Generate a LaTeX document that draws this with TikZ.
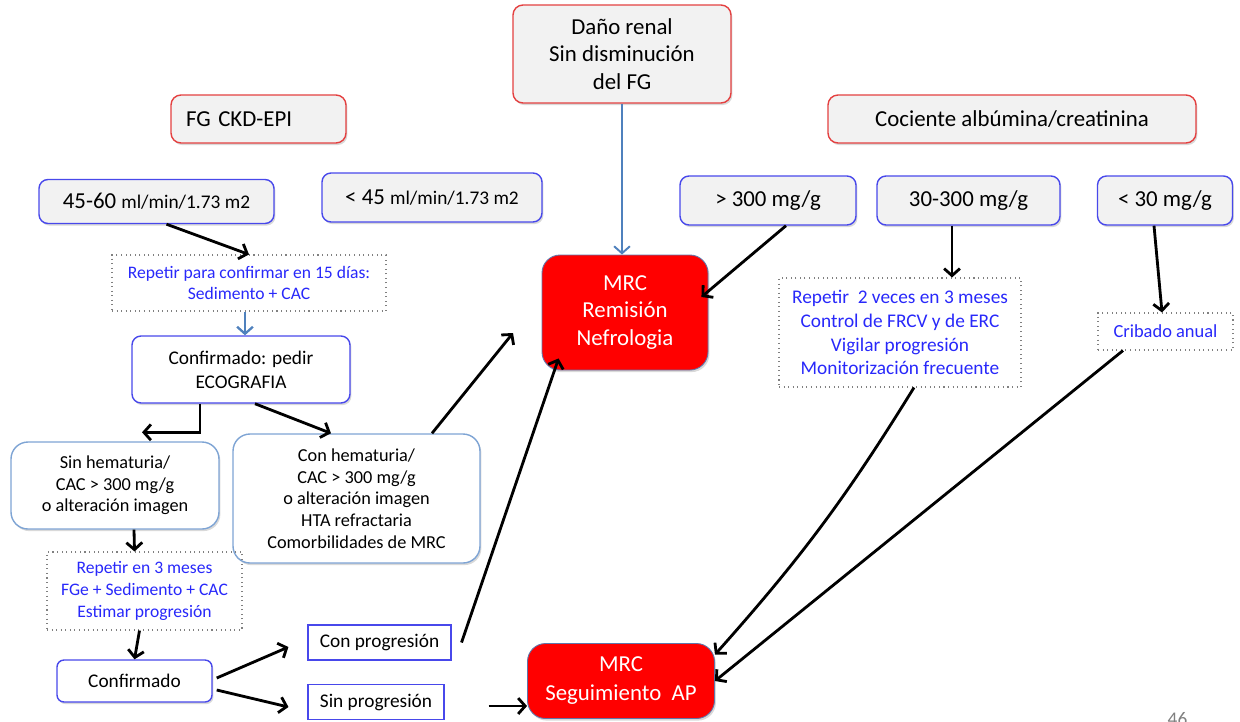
\documentclass[tikz,border=0pt]{standalone}
\usepackage{fontspec}
\setmainfont{Carlito}
\definecolor{headred}{RGB}{228, 64, 64}
\definecolor{boxgray}{RGB}{242, 242, 242}
\definecolor{valblue}{RGB}{72, 72, 235}
\definecolor{softblue}{RGB}{126, 164, 212}
\definecolor{noteblue}{RGB}{40, 40, 250}
\definecolor{steelblue}{RGB}{79, 129, 189}
\definecolor{mrcred}{RGB}{255, 0, 0}
\definecolor{mrcedge}{RGB}{96, 118, 170}
\usetikzlibrary{arrows.meta, shadows}
\newcommand{\hdfont}{\fontsize{13}{15.5}\selectfont}
\newcommand{\unitfont}{\fontsize{11}{13}\selectfont}
\newcommand{\boxfont}{\fontsize{11}{13.6}\selectfont}
\newcommand{\notefont}{\fontsize{10}{12.3}\selectfont}
\newcommand{\softfont}{\fontsize{10.4}{12.3}\selectfont}

\begin{document}
\begin{tikzpicture}[
    shade/.style={drop shadow={shadow xshift=0.8pt, shadow yshift=-1.2pt, opacity=0.3}},
    headbox/.style={draw=headred, fill=boxgray, line width=0.8pt, rounded corners=0.2cm, shade, inner sep=0pt, font=\hdfont, align=center},
    valbox/.style={draw=valblue, fill=boxgray, line width=0.8pt, rounded corners=0.18cm, shade, inner sep=0pt, font=\hdfont},
    notebox/.style={draw=gray, dotted, line width=0.6pt, text=noteblue, inner sep=0pt, font=\notefont, align=center},
    whitebox/.style={draw=valblue, fill=white, line width=0.8pt, rounded corners=0.18cm, shade, inner sep=0pt, font=\boxfont, align=center},
    softbox/.style={draw=softblue, fill=white, line width=0.8pt, rounded corners=0.34cm, shade, inner sep=0pt, font=\softfont, align=center},
    flatbox/.style={draw=valblue, line width=0.6pt, inner sep=0pt, font=\boxfont},
    mrcbox/.style={draw=mrcedge, fill=mrcred, text=white, line width=0.5pt, rounded corners=0.36cm, shade, inner sep=0pt, font=\hdfont, align=center},
    arr/.style={-{Straight Barb[length=4pt,width=9pt]}, line width=1.6pt, black},
    bluearr/.style={-{Straight Barb[length=4pt,width=9pt]}, line width=1.3pt, steelblue}
  ]
  \useasboundingbox (0, 0) rectangle (24.8, -14.42);

  % Headers
  \node[headbox, minimum width=4.36cm, minimum height=1.96cm] (dano) at (12.44, -1.08) {Daño renal\\Sin disminución\\del FG};
  \node[headbox, minimum width=3.5cm, minimum height=0.96cm, text width=2.9cm, align=left] (fgckd) at (5.17, -2.38) {FG CKD-EPI};
  \node[headbox, minimum width=7.36cm, minimum height=0.96cm] (cociente) at (20.24, -2.38) {Cociente albúmina/creatinina};

  % Filtrado glomerular
  \node[valbox, minimum width=4.7cm, minimum height=0.88cm] (fg4560) at (3.13, -4.03) {45-60 {\unitfont ml/min/1.73 m2}};
  \node[valbox, minimum width=4.4cm, minimum height=0.98cm] (fgmenos45) at (8.64, -3.95) {< 45 {\unitfont ml/min/1.73 m2}};

  % Albuminuria
  \node[valbox, minimum width=3.52cm, minimum height=0.98cm] (cac300) at (15.36, -4.01) {> 300 mg/g};
  \node[valbox, minimum width=3.66cm, minimum height=0.98cm] (cac30300) at (19.37, -4.01) {30-300 mg/g};
  \node[valbox, minimum width=2.7cm, minimum height=0.98cm] (cac30) at (23.30, -4.01) {< 30 mg/g};

  % Left branch
  \node[notebox, minimum width=5.48cm, minimum height=1.12cm] (repetir15) at (4.98, -5.66) {Repetir para confirmar en 15 días:\\Sedimento + CAC};
  \node[whitebox, minimum width=4.36cm, minimum height=1.34cm] (ecografia) at (4.82, -7.39) {Confirmado: pedir\\ECOGRAFIA};
  \node[softbox, minimum width=4.16cm, minimum height=1.74cm] (sinhemat) at (2.30, -9.71) {Sin hematuria/\\CAC > 300 mg/g\\o alteración imagen};
  \node[softbox, minimum width=4.94cm, minimum height=2.58cm] (conhemat) at (7.13, -9.97) {Con hematuria/\\CAC > 300 mg/g\\o alteración imagen\\HTA refractaria\\Comorbilidades de MRC};
  \node[notebox, minimum width=3.9cm, minimum height=1.56cm] (repetir3m) at (2.89, -11.82) {Repetir en 3 meses\\FGe + Sedimento + CAC\\Estimar progresión};
  \node[whitebox, minimum width=3.1cm, minimum height=0.84cm, rounded corners=0.14cm] (confirmado) at (2.69, -13.62) {Confirmado};
  \node[flatbox, minimum width=2.86cm, minimum height=0.7cm] (conprog) at (7.59, -12.85) {Con progresión};
  \node[flatbox, minimum width=2.72cm, minimum height=0.7cm] (sinprog) at (7.52, -14.04) {Sin progresión};

  % Right branch
  \node[notebox, minimum width=4.84cm, minimum height=2.18cm, font=\fontsize{11}{13.6}\selectfont] (repetir2v) at (18.00, -6.65) {Repetir\ \ 2 veces en 3 meses\\Control de FRCV y de ERC\\Vigilar progresión\\Monitorización frecuente};
  \node[notebox, minimum width=2.7cm, minimum height=0.74cm, font=\fontsize{10.5}{12.5}\selectfont] (cribado) at (23.31, -6.63) {Cribado anual};

  % Destinos
  \node[mrcbox, minimum width=3.32cm, minimum height=2.3cm] (remision) at (12.50, -6.25) {MRC\\Remisión\\Nefrologia};
  \node[mrcbox, minimum width=3.74cm, minimum height=1.5cm, font=\fontsize{13}{16.5}\selectfont] (seguimiento) at (12.42, -13.62) {MRC\\Seguimiento\ \ AP};
  \coordinate (haciaremision) at (10.26, -6.66);

  % Connectors
  \draw[bluearr, line width=1.1pt] (dano) -- (dano |- remision.north);
  \draw[arr] ([xshift=0.2cm]fg4560.south) -- (repetir15.north);
  \draw[bluearr] ([xshift=-0.08cm]repetir15.south) -- ([xshift=-0.08cm]repetir15.south |- ecografia.north);
  \draw[arr] ([xshift=-0.82cm]ecografia.south) |- ([xshift=0.54cm, yshift=0.18cm]sinhemat.north);
  \draw[arr] ([xshift=0.28cm]ecografia.south) -- ([xshift=-0.51cm]conhemat.north);
  \draw[arr] ([xshift=1.51cm]conhemat.north) -- (haciaremision);
  \draw[arr] ([xshift=0.38cm]sinhemat.south) -- ([xshift=-0.2cm]repetir3m.north);
  \draw[arr] ([xshift=-0.1cm]repetir3m.south) -- (confirmado.north);
  \draw[arr] ([xshift=0.08cm, yshift=0.06cm]confirmado.east) -- ([xshift=-0.38cm, yshift=-0.09cm]conprog.west);
  \draw[arr] ([xshift=0.08cm, yshift=-0.18cm]confirmado.east) -- ([xshift=-0.38cm, yshift=-0.1cm]sinprog.west);
  \draw[arr] ([xshift=0.2cm]conprog.east) -- ([xshift=0.34cm, yshift=0.24cm]remision.south west);
  \draw[arr] ([xshift=0.88cm, yshift=-0.08cm]sinprog.east) -- ([yshift=-0.5cm]seguimiento.west);
  \draw[arr] ([xshift=0.36cm]cac300.south) -- ([xshift=-0.14cm, yshift=0.31cm]remision.east);
  \draw[arr] ([xshift=-0.33cm]cac30300.south) -- ([xshift=-0.33cm]cac30300.south |- repetir2v.north);
  \draw[arr] ([xshift=-0.22cm]cac30.south) -- ([xshift=-0.07cm]cribado.north);
  \draw[arr] ([xshift=0.28cm]repetir2v.south) to[bend left=5] ([yshift=-0.23cm]seguimiento.north east);
  \draw[arr] ([xshift=-0.85cm]cribado.south) -- (seguimiento.east);

  % Page number
  \node[text=gray, font=\fontsize{11}{13}\selectfont, inner sep=0pt, anchor=north] (pagina) at (23.55, -14.24) {46};
\end{tikzpicture}
\end{document}
